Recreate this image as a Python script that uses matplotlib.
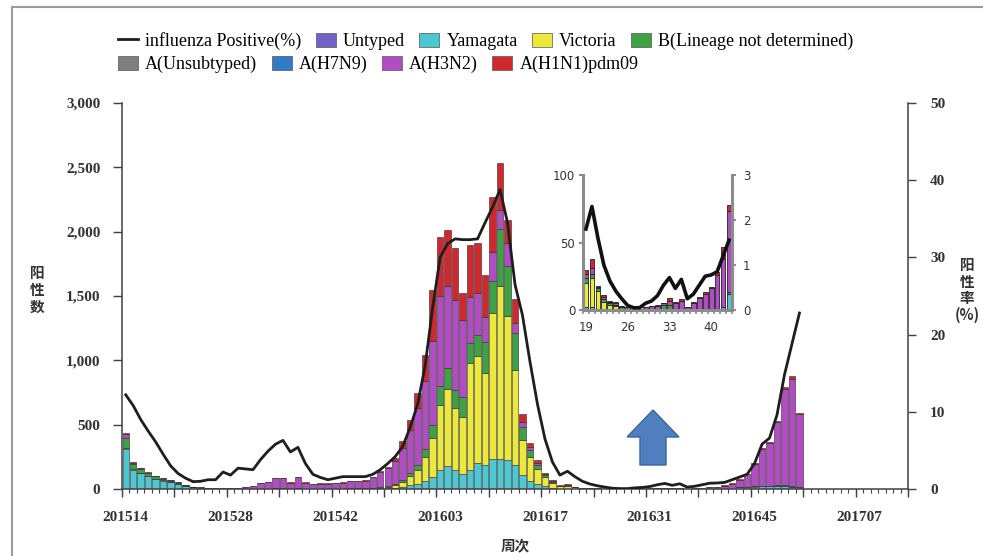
import numpy as np
import matplotlib
matplotlib.use("Agg")
import matplotlib.pyplot as plt
from matplotlib.patches import Polygon, Rectangle, Patch
from matplotlib.lines import Line2D

# ---------------- data ----------------
# weekly categories 201514 ... 201713
weeks = [f"2015{w:02d}" for w in range(14, 54)] + \
        [f"2016{w:02d}" for w in range(1, 53)] + \
        [f"2017{w:02d}" for w in range(1, 14)]
tick_labels = ["201514", "201528", "201542", "201603", "201617", "201631", "201645", "201707"]

yamagata = [310, 150, 122, 98, 80, 66, 54, 40, 25, 12, 8, 4, 2, 1, 1, 1, 1, 1, 1, 1,
            1, 1, 1, 1, 1, 1, 1, 1, 1, 1, 1, 2, 2, 3, 4, 6, 10, 15, 30, 40,
            60, 90, 150, 180, 150, 120, 148, 200, 185, 230, 230, 225, 185, 110, 60, 40, 20, 10,
            2, 2, 1, 1, 0, 0, 0, 0, 0, 0, 0, 0, 0, 0, 0, 0, 0, 0, 0, 0, 0, 0, 1, 2, 12,
            15, 18, 20, 20, 20, 20, 15, 10]
victoria = [5, 3, 2, 2, 1, 1, 1, 1, 1, 0, 0, 0, 0, 0, 0, 0, 0, 0, 1, 1,
            1, 1, 1, 1, 1, 1, 1, 1, 1, 1, 2, 2, 3, 4, 6, 10, 20, 40, 70, 110,
            190, 310, 500, 600, 480, 440, 830, 830, 715, 1135, 1350, 1120, 740, 270, 190, 115, 70, 40,
            18, 22, 13, 5, 4, 3, 1, 1, 0, 0, 0, 0, 0, 0, 0, 0, 0, 0, 0, 0, 0, 0, 0, 0, 0,
            1, 2, 2, 3, 3, 3, 3, 2]
b_nd = [80, 38, 28, 22, 17, 13, 10, 7, 5, 3, 2, 1, 1, 1, 1, 1, 1, 1, 1, 1,
        2, 2, 1, 2, 1, 1, 1, 1, 1, 1, 1, 2, 2, 3, 4, 5, 8, 15, 25, 40,
        60, 100, 150, 160, 140, 155, 155, 170, 245, 255, 440, 390, 290, 100, 55, 35, 15, 8,
        4, 3, 2, 2, 1, 1, 1, 0, 0, 0, 1, 1, 1, 4, 4, 1, 0, 0, 0, 0, 0, 0, 0, 0, 1,
        2, 3, 4, 4, 5, 5, 5, 4]
h3n2 = [35, 14, 9, 6, 5, 4, 4, 3, 2, 2, 2, 2, 2, 2, 3, 7, 12, 19, 40, 50,
        78, 78, 47, 88, 47, 35, 39, 39, 45, 47, 55, 56, 59, 80, 116, 140, 180, 250, 330, 440,
        530, 650, 700, 640, 700, 595, 360, 320, 195, 220, 150, 180, 75, 40, 20, 15, 10, 6,
        3, 4, 1, 2, 1, 1, 1, 1, 1, 1, 1, 2, 2, 1, 3, 4, 7, 2, 5, 9, 12, 16, 25, 36, 60,
        95, 170, 285, 330, 490, 750, 835, 564]
h1n1 = [5, 2, 2, 2, 1, 1, 1, 1, 1, 1, 1, 1, 1, 1, 1, 1, 1, 1, 2, 2,
        3, 3, 2, 3, 2, 2, 2, 2, 2, 2, 3, 3, 4, 5, 10, 13, 24, 50, 85, 113,
        200, 395, 455, 430, 400, 210, 400, 390, 325, 430, 365, 175, 190, 65, 35, 20, 12, 6,
        3, 7, 1, 1, 1, 1, 0, 0, 0, 0, 0, 0, 1, 0, 2, 1, 1, 0, 1, 1, 1, 1, 2, 9, 5,
        7, 7, 9, 8, 12, 12, 22, 10]
positive_rate = [12.2, 10.8, 9.0, 7.5, 6.1, 4.5, 3.0, 2.0, 1.4, 0.95, 1.0, 1.2, 1.2, 2.2, 1.8,
                 2.7, 2.6, 2.5, 3.8, 4.9, 5.8, 6.3, 4.8, 5.4, 3.3, 1.9, 1.5, 1.2, 1.4, 1.6,
                 1.6, 1.6, 1.6, 1.9, 2.5, 3.3, 4.2, 5.5, 8.0, 11.0, 16.0, 23.5, 30.0, 31.8, 32.4,
                 32.3, 32.3, 32.4, 34.5, 36.5, 38.8, 34.5, 26.5, 22.5, 16.5, 11.0, 6.5, 3.5,
                 1.8, 2.3, 1.6, 1.0, 0.65, 0.42, 0.25, 0.1, 0.05, 0.05, 0.15, 0.2, 0.32, 0.55,
                 0.72, 0.48, 0.68, 0.25, 0.35, 0.55, 0.75, 0.78, 0.85, 1.2, 1.55,
                 1.9, 3.3, 5.8, 6.6, 9.6, 14.8, 18.8, 22.8]

series_names = ["Untyped", "Yamagata", "Victoria", "B(Lineage not determined)",
                "A(Unsubtyped)", "A(H7N9)", "A(H3N2)", "A(H1N1)pdm09"]
colors = {"Untyped": "#7262C4", "Yamagata": "#4CC8D2", "Victoria": "#ECE83C",
          "B(Lineage not determined)": "#3DA243", "A(Unsubtyped)": "#7F7F7F",
          "A(H7N9)": "#2F7BC6", "A(H3N2)": "#B24CC2", "A(H1N1)pdm09": "#D0282E"}
stack = [("Yamagata", yamagata), ("Victoria", victoria),
         ("B(Lineage not determined)", b_nd), ("A(H3N2)", h3n2), ("A(H1N1)pdm09", h1n1)]

# inset: 2016 weeks 19-43
inset_weeks = list(range(19, 44))
inset_start = weeks.index("201619")

# ---------------- figure ----------------
W, H = 983, 556
fig = plt.figure(figsize=(W / 100, H / 100), dpi=100)
SERIF = "Liberation Serif"
CJK = ["Noto Sans CJK SC", "DejaVu Sans"]


def rect(l, t, r, b):
    return [l / W, 1 - b / H, (r - l) / W, (b - t) / H]


ax = fig.add_axes(rect(122, 103, 908, 489))
n = len(yamagata)
x = np.arange(n)
bottom = np.zeros(n)
for name, vals in stack:
    v = np.array(vals, dtype=float)
    ax.bar(x, v, bottom=bottom, width=0.86, color=colors[name],
           edgecolor="#2a2a2a", linewidth=0.4, zorder=2)
    bottom += v

ax.set_xlim(-0.5, len(weeks) - 0.5)
ax.set_ylim(0, 3000)
ax.set_yticks(range(0, 3001, 500))
ax.set_yticklabels([f"{v:,}" for v in range(0, 3001, 500)])
lab_pos = [weeks.index(t) for t in tick_labels]
ax.set_xticks(lab_pos)
ax.set_xticklabels(tick_labels)
ax.set_xticks(np.arange(-0.5, len(weeks), 1), minor=True)
ax.tick_params(axis="x", which="major", length=0, pad=16)
ax.tick_params(axis="x", which="minor", length=3, width=0.8, color="#404040")
ax.tick_params(axis="y", direction="out", length=6.5, width=1, color="#404040", pad=9)
sec = ax.secondary_xaxis("bottom")
sec.set_xticks(np.arange(-0.5, len(weeks), 7))
sec.tick_params(length=6, width=1, color="#404040", labelbottom=False)
sec.spines["bottom"].set_visible(False)
for lab in ax.get_xticklabels() + ax.get_yticklabels():
    lab.set_fontfamily(SERIF)
    lab.set_fontweight("bold")
    lab.set_fontsize(11)
    lab.set_color("#333333")
ax.spines["top"].set_visible(False)
ax.spines["right"].set_visible(False)
for s in ("left", "bottom"):
    ax.spines[s].set_color("#404040")
    ax.spines[s].set_linewidth(1.1)

ax2 = ax.twinx()
ax2.plot(np.arange(len(positive_rate)), positive_rate, color="#1e1e1e", lw=2.0, zorder=3)
ax2.set_ylim(0, 50)
ax2.set_yticks(range(0, 51, 10))
ax2.tick_params(axis="y", direction="out", length=6, width=1, color="#404040", pad=10)
for lab in ax2.get_yticklabels():
    lab.set_fontfamily(SERIF)
    lab.set_fontweight("bold")
    lab.set_fontsize(11)
    lab.set_color("#333333")
ax2.spines["top"].set_visible(False)
ax2.spines["left"].set_visible(False)
ax2.spines["bottom"].set_visible(False)
ax2.spines["right"].set_color("#404040")
ax2.spines["right"].set_linewidth(1.1)

# axis titles
fig.text(37 / W, 1 - 290 / H, "阳\n性\n数", ha="center", va="center", family=CJK,
         fontsize=10.5, fontweight="bold", linespacing=1.05, color="#333333")
fig.text(967 / W, 1 - 290 / H, "阳\n性\n率\n(%)", ha="center", va="center", family=CJK,
         fontsize=10.5, fontweight="bold", linespacing=1.05, color="#333333")
fig.text(515 / W, 1 - 545 / H, "周次", ha="center", va="center", family=CJK,
         fontsize=10.5, fontweight="bold", color="#333333")

# legend (two rows)
def patch(name):
    return Patch(facecolor=colors[name], edgecolor="#555555", linewidth=0.5)

h1 = [Line2D([], [], color="#1e1e1e", lw=2)] + [patch(nm) for nm in series_names[:4]]
l1 = ["influenza Positive(%)"] + series_names[:4]
h2 = [patch(nm) for nm in series_names[4:]]
l2 = series_names[4:]
legkw = dict(frameon=False, prop={"family": SERIF, "size": 13}, handlelength=1.1,
             handleheight=0.8, handletextpad=0.4, columnspacing=0.8, borderpad=0,
             borderaxespad=0, loc="upper left")
leg1 = fig.legend(h1, l1, ncol=5, bbox_to_anchor=(118 / W, 1 - 32 / H), **legkw)
leg2 = fig.legend(h2, l2, ncol=4, bbox_to_anchor=(118 / W, 1 - 56 / H), **legkw)

# ---------------- inset ----------------
ia = fig.add_axes(rect(583, 175, 732, 310))
sl = slice(inset_start, inset_start + len(inset_weeks))
ib = np.zeros(len(inset_weeks))
for name, vals in stack:
    v = np.array(vals[sl], dtype=float)
    ia.bar(inset_weeks, v, bottom=ib, width=0.8, color=colors[name],
           edgecolor="#222222", linewidth=0.6, zorder=2)
    ib += v
ia.set_xlim(18.5, 43.5)
ia.set_ylim(0, 100)
ia.set_yticks([0, 50, 100])
ia.set_xticks([19, 26, 33, 40])
ia.set_xticks(np.arange(18.5, 44, 1), minor=True)
ia.tick_params(axis="x", which="major", length=0, pad=8, labelsize=8.5, colors="#333333")
ia.tick_params(axis="x", which="minor", length=3, width=1.2, color="#8c8c8c")
ia.tick_params(axis="y", length=3, width=1.5, color="#8c8c8c", labelsize=8.5, pad=2.5,
               labelcolor="#333333")
ia.spines["top"].set_visible(False)
ia.spines["right"].set_visible(False)
for s in ("left", "bottom"):
    ia.spines[s].set_color("#8c8c8c")
    ia.spines[s].set_linewidth(2.2)
ia2 = ia.twinx()
ia2.plot(inset_weeks, positive_rate[sl], color="#111111", lw=2.6, zorder=3)
ia2.set_ylim(0, 3)
ia2.set_yticks([0, 1, 2, 3])
ia2.tick_params(axis="y", length=3, width=1.5, color="#8c8c8c", labelsize=8.5, pad=5,
                labelcolor="#333333")
for s in ("top", "left", "bottom"):
    ia2.spines[s].set_visible(False)
ia2.spines["right"].set_color("#8c8c8c")
ia2.spines["right"].set_linewidth(2.2)

# decorative arrow pointing to the inset
pts = [(653, 410), (627, 437), (640, 437), (640, 465), (666, 465), (666, 437), (679, 437)]
fig.add_artist(Polygon([(px / W, 1 - py / H) for px, py in pts], closed=True,
                       transform=fig.transFigure, facecolor="#4F7FBE", edgecolor="#3B6699",
                       linewidth=1))

# outer frame
fig.add_artist(Rectangle((12 / W, -0.1), 1.2, 1.1 - 7 / H, transform=fig.transFigure,
                         fill=False, edgecolor="#9a9a9a", linewidth=1.5))

fig.savefig("out.png", dpi=100)
